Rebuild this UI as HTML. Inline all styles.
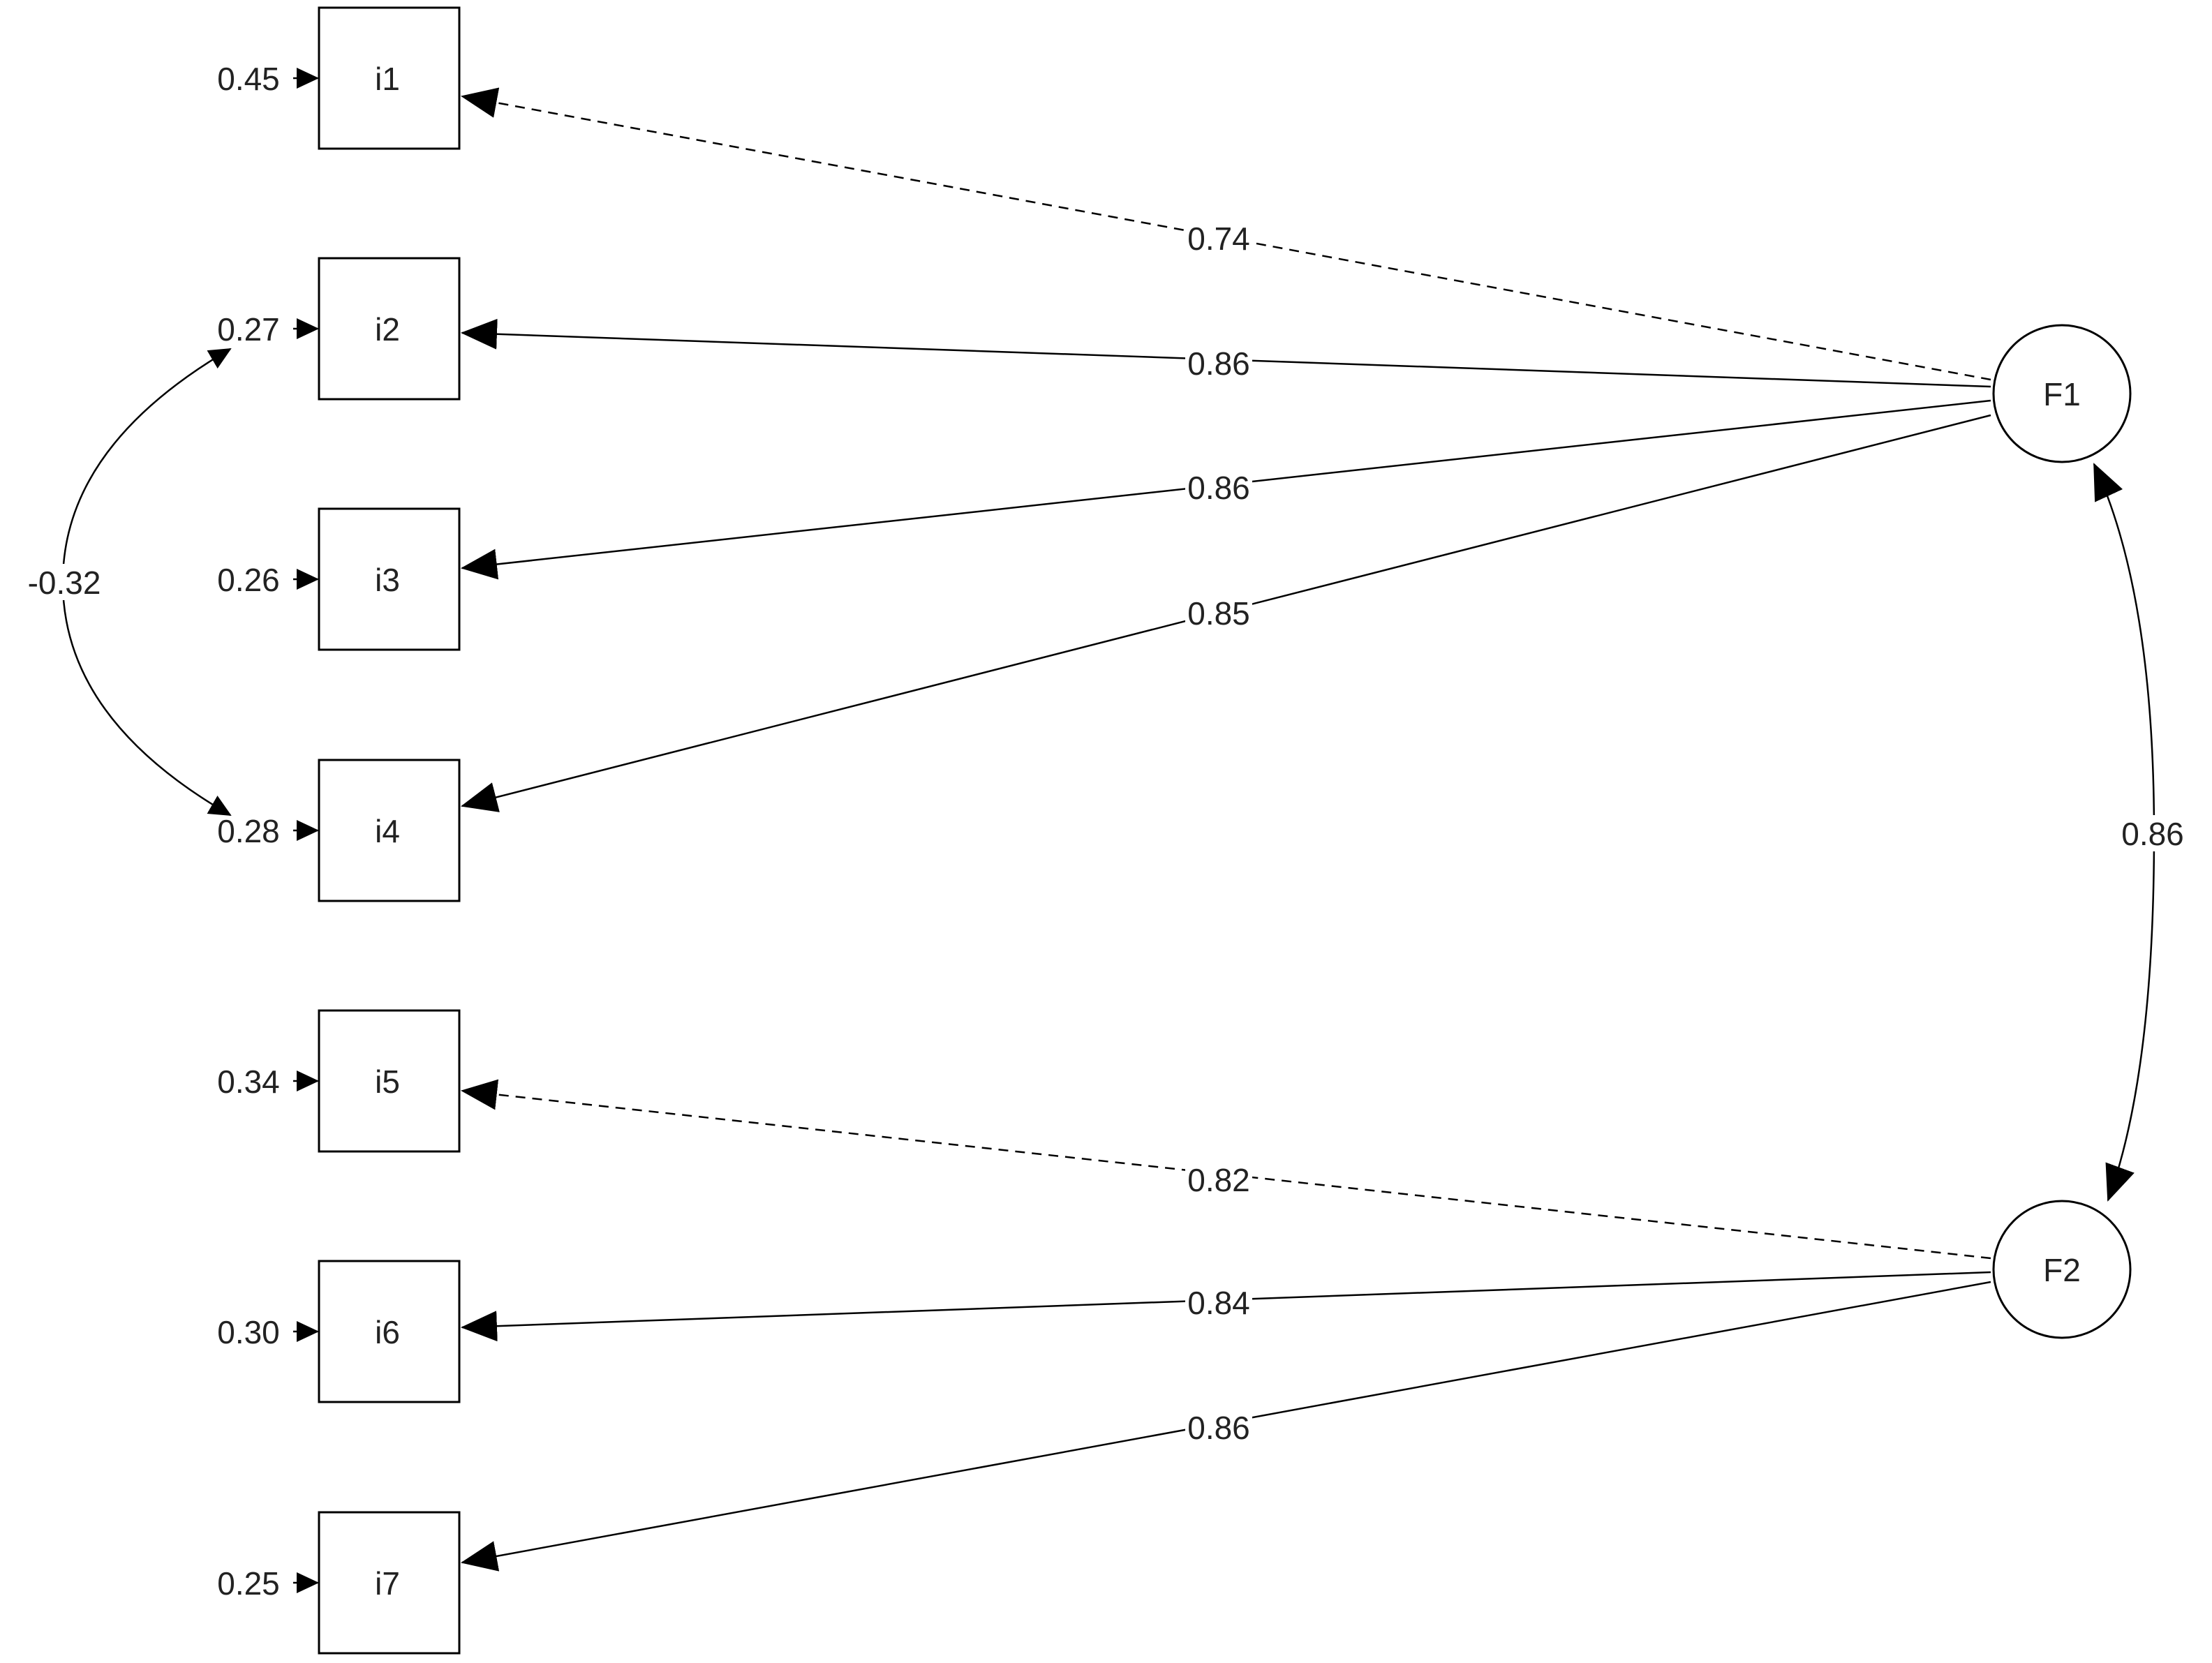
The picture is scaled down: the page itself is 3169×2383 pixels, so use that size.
<!DOCTYPE html>
<html><head><meta charset="utf-8"><style>
html,body{margin:0;padding:0;background:#fff;}
svg{display:block;}
text{font-family:"Liberation Sans",Arial,sans-serif;font-size:46px;fill:#222;}
</style></head><body>
<svg width="3169" height="2383" viewBox="0 0 3169 2383" xmlns="http://www.w3.org/2000/svg">
<defs>
<marker id="big" markerUnits="userSpaceOnUse" markerWidth="52" markerHeight="44" refX="50" refY="22" orient="auto"><path d="M0,0 L52,22 L0,44 Z" fill="#000"/></marker>
<marker id="sm" markerUnits="userSpaceOnUse" markerWidth="32" markerHeight="30" refX="30" refY="15" orient="auto"><path d="M0,0 L32,15 L0,30 Z" fill="#000"/></marker>
</defs>
<g fill="#fff" stroke="#000" stroke-width="3">
<rect x="457" y="11" width="201" height="202"/>
<rect x="457" y="370" width="201" height="202"/>
<rect x="457" y="729" width="201" height="202"/>
<rect x="457" y="1089" width="201" height="202"/>
<rect x="457" y="1448" width="201" height="202"/>
<rect x="457" y="1807" width="201" height="202"/>
<rect x="457" y="2167" width="201" height="202"/>
<circle cx="2954" cy="564" r="98"/>
<circle cx="2954" cy="1819" r="98"/>
</g>
<g stroke="#000" stroke-width="2.5" fill="none">
<line x1="2852" y1="544" x2="662" y2="138" stroke-dasharray="14,10" marker-end="url(#big)"/>
<line x1="2852" y1="554" x2="662" y2="477" marker-end="url(#big)"/>
<line x1="2852" y1="574" x2="662" y2="814" marker-end="url(#big)"/>
<line x1="2852" y1="595" x2="662" y2="1155" marker-end="url(#big)"/>
<line x1="2852" y1="1803" x2="662" y2="1563" stroke-dasharray="14,10" marker-end="url(#big)"/>
<line x1="2852" y1="1823" x2="662" y2="1902" marker-end="url(#big)"/>
<line x1="2852" y1="1837" x2="662" y2="2239" marker-end="url(#big)"/>
<line x1="420" y1="112" x2="455" y2="112" marker-end="url(#sm)"/>
<line x1="420" y1="471" x2="455" y2="471" marker-end="url(#sm)"/>
<line x1="420" y1="830" x2="455" y2="830" marker-end="url(#sm)"/>
<line x1="420" y1="1190" x2="455" y2="1190" marker-end="url(#sm)"/>
<line x1="420" y1="1549" x2="455" y2="1549" marker-end="url(#sm)"/>
<line x1="420" y1="1908" x2="455" y2="1908" marker-end="url(#sm)"/>
<line x1="420" y1="2268" x2="455" y2="2268" marker-end="url(#sm)"/>
<path d="M90,834 Q90,640 330,500" marker-end="url(#sm)"/>
<path d="M90,834 Q90,1030 330,1168" marker-end="url(#sm)"/>
<path d="M3086,1194 Q3086,850 3000,665" marker-end="url(#big)"/>
<path d="M3086,1194 Q3086,1540 3020,1720" marker-end="url(#big)"/>
</g>
<g fill="#fff">
<rect x="1698" y="315" width="96" height="52"/>
<rect x="1698" y="494" width="96" height="52"/>
<rect x="1698" y="672" width="96" height="52"/>
<rect x="1698" y="852" width="96" height="52"/>
<rect x="1698" y="1664" width="96" height="52"/>
<rect x="1698" y="1840" width="96" height="52"/>
<rect x="1698" y="2019" width="96" height="52"/>
<rect x="40" y="808" width="104" height="52"/>
<rect x="3036" y="1168" width="96" height="52"/>
</g>
<g text-anchor="middle">
<text x="555" y="129">i1</text>
<text x="555" y="488">i2</text>
<text x="555" y="847">i3</text>
<text x="555" y="1207">i4</text>
<text x="555" y="1566">i5</text>
<text x="555" y="1925">i6</text>
<text x="555" y="2285">i7</text>
<text x="2954" y="581">F1</text>
<text x="2954" y="1836">F2</text>
<text x="1746" y="358">0.74</text>
<text x="1746" y="537">0.86</text>
<text x="1746" y="715">0.86</text>
<text x="1746" y="895">0.85</text>
<text x="1746" y="1707">0.82</text>
<text x="1746" y="1883">0.84</text>
<text x="1746" y="2062">0.86</text>
<text x="92" y="851">-0.32</text>
<text x="3084" y="1211">0.86</text>
<text x="356" y="129">0.45</text>
<text x="356" y="488">0.27</text>
<text x="356" y="847">0.26</text>
<text x="356" y="1207">0.28</text>
<text x="356" y="1566">0.34</text>
<text x="356" y="1925">0.30</text>
<text x="356" y="2285">0.25</text>
</g>
</svg>
</body></html>
